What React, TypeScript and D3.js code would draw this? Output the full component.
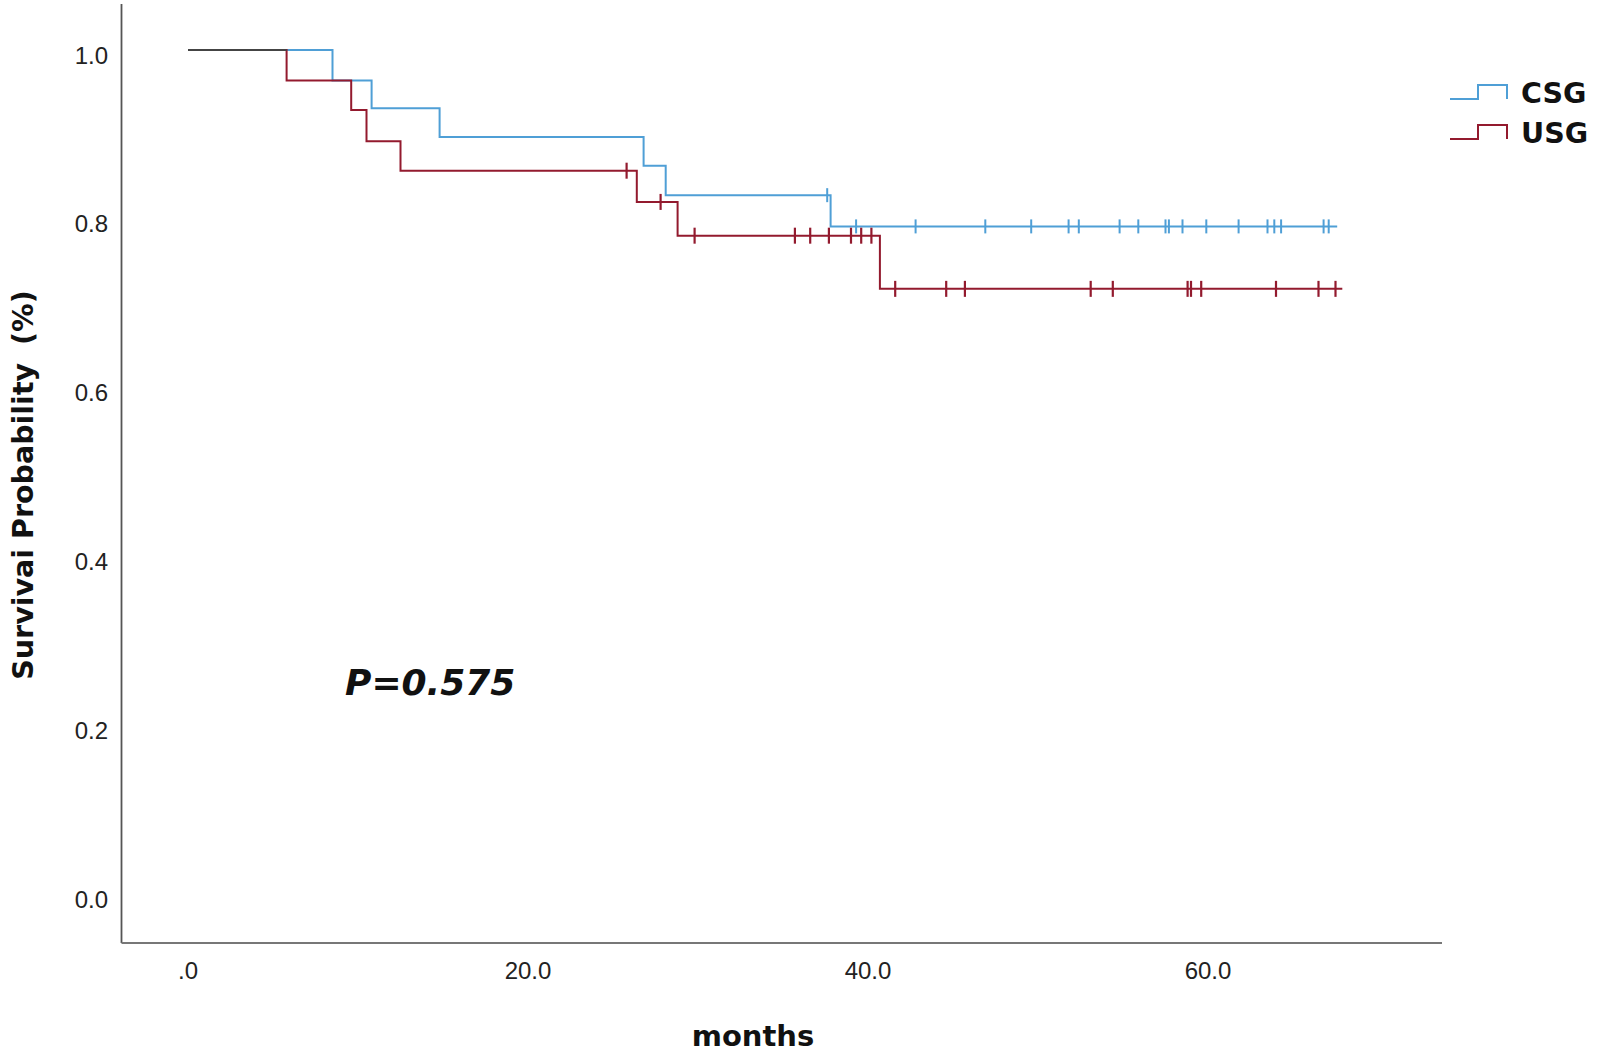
import React from "react";
import * as d3 from "d3";

// ---- data ----
const csgTimes = [0, 8.5, 10.8, 14.8, 26.8, 28.1, 37.8];
const csgSurv = [1, 0.964, 0.931, 0.897, 0.863, 0.828, 0.791];
const csgEnd = 67.6;
const csgCensor = [37.6, 39.3, 42.8, 46.9, 49.6, 51.8, 52.4, 54.8, 55.9, 57.5, 57.7, 58.5, 59.9, 61.8, 63.5, 63.9, 64.3, 66.8, 67.1];

const usgTimes = [0, 5.8, 9.6, 10.5, 12.5, 26.4, 28.8, 40.7];
const usgSurv = [1, 0.964, 0.929, 0.892, 0.857, 0.82, 0.78, 0.717];
const usgEnd = 67.9;
const usgCensor = [25.8, 27.8, 29.8, 35.7, 36.6, 37.7, 39.0, 39.6, 40.2, 41.6, 44.6, 45.7, 53.1, 54.4, 58.8, 59.0, 59.6, 64.0, 66.5, 67.5];

const xTicks = [0, 20, 40, 60];
const xTickLabels = [".0", "20.0", "40.0", "60.0"];
const yTicks = [0, 0.2, 0.4, 0.6, 0.8, 1.0];
const yTickLabels = ["0.0", "0.2", "0.4", "0.6", "0.8", "1.0"];

const seriesNames = ["CSG", "USG"];
const pValueText = "P=0.575";

const BLUE = "#4f9fd6";
const RED = "#931a2e";

export default function App() {
  const x = d3.scaleLinear().domain([0, 60]).range([188, 1208]);
  const y = d3.scaleLinear().domain([0, 1]).range([894, 50]);

  const stepPts = (times: number[], surv: number[], end: number) => {
    const pts: [number, number][] = times.map((t, i) => [t, surv[i]]);
    pts.push([end, surv[surv.length - 1]]);
    return pts;
  };
  const survAt = (times: number[], surv: number[], t: number) => {
    let s = surv[0];
    for (let i = 0; i < times.length; i++) if (times[i] <= t) s = surv[i];
    return s;
  };
  const line = d3
    .line<[number, number]>()
    .x((d) => x(d[0]))
    .y((d) => y(d[1]))
    .curve(d3.curveStepAfter);

  const csgPath = line(stepPts(csgTimes, csgSurv, csgEnd)) || "";
  const usgPath = line(stepPts(usgTimes, usgSurv, usgEnd)) || "";
  const sharedPath = line([[0, 1], [usgTimes[1], 1]]) || "";

  const axisX0 = 121.5;
  const axisY0 = 943;
  const axisXEnd = 1442;

  const tickFont = "'Liberation Sans', Arial, sans-serif";
  const boldFont = "'DejaVu Sans', sans-serif";

  // legend step icon
  const legendIcon = (yBase: number) =>
    d3.line()([
      [1450, yBase],
      [1478, yBase],
      [1478, yBase - 14],
      [1507, yBase - 14],
      [1507, yBase],
    ]) || "";

  return (
    <svg width={1600} height={1054} style={{ display: "block", position: "absolute", left: 0, top: 0, background: "#fff" }}>
      <rect x={0} y={0} width={1600} height={1054} fill="#fff" />
      {/* axes */}
      <line x1={axisX0} y1={4} x2={axisX0} y2={axisY0} stroke="#555" strokeWidth={1.8} />
      <line x1={axisX0} y1={axisY0} x2={axisXEnd} y2={axisY0} stroke="#777" strokeWidth={2} />

      {/* y tick labels */}
      {yTicks.map((v, i) => (
        <text key={"y" + i} x={108} y={y(v) + 13.5} textAnchor="end" fontFamily={tickFont} fontSize={24} fill="#222">
          {yTickLabels[i]}
        </text>
      ))}
      {/* x tick labels */}
      {xTicks.map((v, i) => (
        <text key={"x" + i} x={x(v)} y={979} textAnchor="middle" fontFamily={tickFont} fontSize={24} fill="#222">
          {xTickLabels[i]}
        </text>
      ))}

      {/* axis titles */}
      <text x={753} y={1046} textAnchor="middle" fontFamily={boldFont} fontWeight="bold" fontSize={29} fill="#111">
        months
      </text>
      <text
        transform="translate(33,485) rotate(-90)"
        textAnchor="middle"
        fontFamily={boldFont}
        fontWeight="bold"
        fontSize={28.5}
        fill="#111"
      >
        Survivai Probability<tspan dx={18}>(%)</tspan>
      </text>

      {/* curves */}
      <path d={csgPath} fill="none" stroke={BLUE} strokeWidth={2} />
      <path d={usgPath} fill="none" stroke={RED} strokeWidth={2} />
      <path d={sharedPath} fill="none" stroke="#444" strokeWidth={2} />

      {/* censor marks */}
      {csgCensor.map((t, i) => {
        const cy = y(survAt(csgTimes, csgSurv, t));
        return <line key={"cc" + i} x1={x(t)} x2={x(t)} y1={cy - 7} y2={cy + 7} stroke={BLUE} strokeWidth={2} />;
      })}
      {usgCensor.map((t, i) => {
        const cy = y(survAt(usgTimes, usgSurv, t));
        return <line key={"uc" + i} x1={x(t)} x2={x(t)} y1={cy - 8} y2={cy + 8} stroke={RED} strokeWidth={2.2} />;
      })}

      {/* P value */}
      <text x={345} y={695} fontFamily={boldFont} fontWeight="bold" fontStyle="italic" fontSize={36} fill="#111">
        {pValueText}
      </text>

      {/* legend */}
      <path d={legendIcon(99)} fill="none" stroke={BLUE} strokeWidth={2} />
      <text x={1521} y={103} fontFamily={boldFont} fontWeight="bold" fontSize={28.5} fill="#111">
        {seriesNames[0]}
      </text>
      <path d={legendIcon(139)} fill="none" stroke={RED} strokeWidth={2} />
      <text x={1521} y={143} fontFamily={boldFont} fontWeight="bold" fontSize={28.5} fill="#111">
        {seriesNames[1]}
      </text>
    </svg>
  );
}
